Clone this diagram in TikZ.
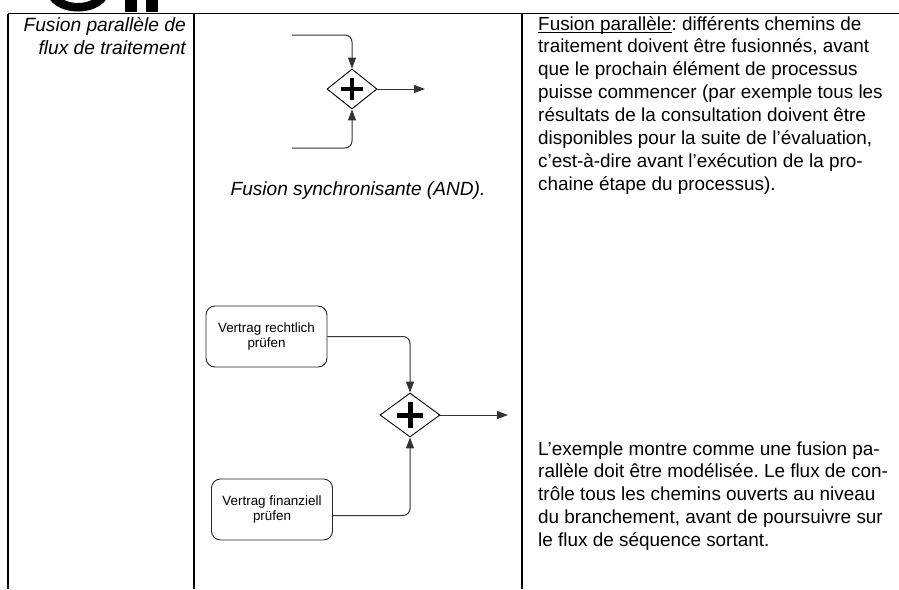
\documentclass[tikz,border=0pt]{standalone}
\usepackage{fontspec}
\setmainfont{Liberation Sans}
\usetikzlibrary{shapes.geometric,arrows.meta}
\frenchspacing
\newcommand{\myuline}[1]{\setbox0\hbox{#1}\rlap{\rule[-2.6pt]{\wd0}{1pt}}\box0}
\begin{document}
\begin{tikzpicture}[x=1pt,y=-1pt,
  rule/.style={line width=1.4pt,black},
  gw/.style={draw=black,line width=0.9pt,shape=diamond,inner sep=0pt,fill=white},
  flow/.style={draw=black!80,line width=1pt,rounded corners=7pt,-{Triangle[length=11pt,width=8pt]}},
  task/.style={draw=black!85,line width=0.9pt,rounded corners=9pt,minimum width=121pt,minimum height=61pt,align=center,font=\fontsize{13.4}{15.5}\selectfont,inner sep=0pt},
  bodyline/.style={anchor=base west,inner sep=0pt,font=\fontsize{18.9}{23}\selectfont},
  itline/.style={inner sep=0pt,font=\itshape\fontsize{19.2}{23}\selectfont},
  plus/.style={line width=4pt}
]
\useasboundingbox (0,0) rectangle (899,589);
\fill[white] (0,0) rectangle (899,589);
% cut-off large glyphs at the top edge
\begin{scope}
\clip (0,0) rectangle (899,11.5);
\fill[even odd rule] (78,-9) ellipse [x radius=31, y radius=20.5] (78,-7) ellipse [x radius=19, y radius=10];
\fill (125,-5) rectangle (137,12);
\fill (146,-5) rectangle (158,12);
\end{scope}
% table
\draw[rule] (8,13.5) -- (899,13.5);
\draw[rule] (8,13.5) -- (8,589);
\draw[rule] (194,13.5) -- (194,589);
\draw[rule] (522,13.5) -- (522,589);
% left column
\node[itline,anchor=base east] (lt1) at (186,31) {Fusion parallèle de};
\node[itline,anchor=base east] (lt2) at (186,54) {flux de traitement};
% top diagram
\node[gw,minimum width=50pt,minimum height=40pt] (g1) at (352,89) {};
\draw[plus] ([xshift=-11pt]g1.center) -- ([xshift=11pt]g1.center);
\draw[plus] ([yshift=-11pt]g1.center) -- ([yshift=11pt]g1.center);
\coordinate (a1) at (292,35);
\coordinate (a2) at (292,148);
\coordinate (o1) at (425,89);
\draw[flow] (a1) -| (g1.north);
\draw[flow] (a2) -| (g1.south);
\draw[flow] (g1.east) -- (o1);
\node[itline,anchor=base,font=\itshape\fontsize{19.1}{23}\selectfont] (cap) at (358,195) {Fusion synchronisante (AND).};
% bottom diagram
\node[task] (v1) at (266.5,336.5) {Vertrag rechtlich\\prüfen};
\node[task] (v2) at (272,509.5) {Vertrag finanziell\\prüfen};
\node[gw,minimum width=60pt,minimum height=44pt] (g2) at (410,415) {};
\draw[plus,line width=5pt] ([xshift=-13pt]g2.center) -- ([xshift=13pt]g2.center);
\draw[plus,line width=5pt] ([yshift=-13pt]g2.center) -- ([yshift=13pt]g2.center);
\coordinate (o2) at (508,415);
\draw[flow] (v1.east) -| (g2.north);
\draw[flow] ([yshift=-6pt]v2.east) -| (g2.south);
\draw[flow] (g2.east) -- (o2);
% right column, block 1
\node[bodyline] (r1) at (538,30) {\myuline{Fusion parallèle}: différents chemins de};
\node[bodyline] (r2) at (538,52.9) {traitement doivent être fusionnés, avant};
\node[bodyline] (r3) at (538,75.8) {que le prochain élément de processus};
\node[bodyline] (r4) at (538,98.7) {puisse commencer (par exemple tous les};
\node[bodyline] (r5) at (538,121.6) {résultats de la consultation doivent être};
\node[bodyline] (r6) at (538,144.5) {disponibles pour la suite de l’évaluation,};
\node[bodyline] (r7) at (538,167.4) {c’est-à-dire avant l’exécution de la pro-};
\node[bodyline] (r8) at (538,190.3) {chaine étape du processus).};
% right column, block 2
\node[bodyline] (s1) at (538,455) {L’exemple montre comme une fusion pa-};
\node[bodyline] (s2) at (538,477.9) {rallèle doit être modélisée. Le flux de con-};
\node[bodyline] (s3) at (538,500.8) {trôle tous les chemins ouverts au niveau};
\node[bodyline] (s4) at (538,523.7) {du branchement, avant de poursuivre sur};
\node[bodyline] (s5) at (538,546.6) {le flux de séquence sortant.};
\end{tikzpicture}
\end{document}
